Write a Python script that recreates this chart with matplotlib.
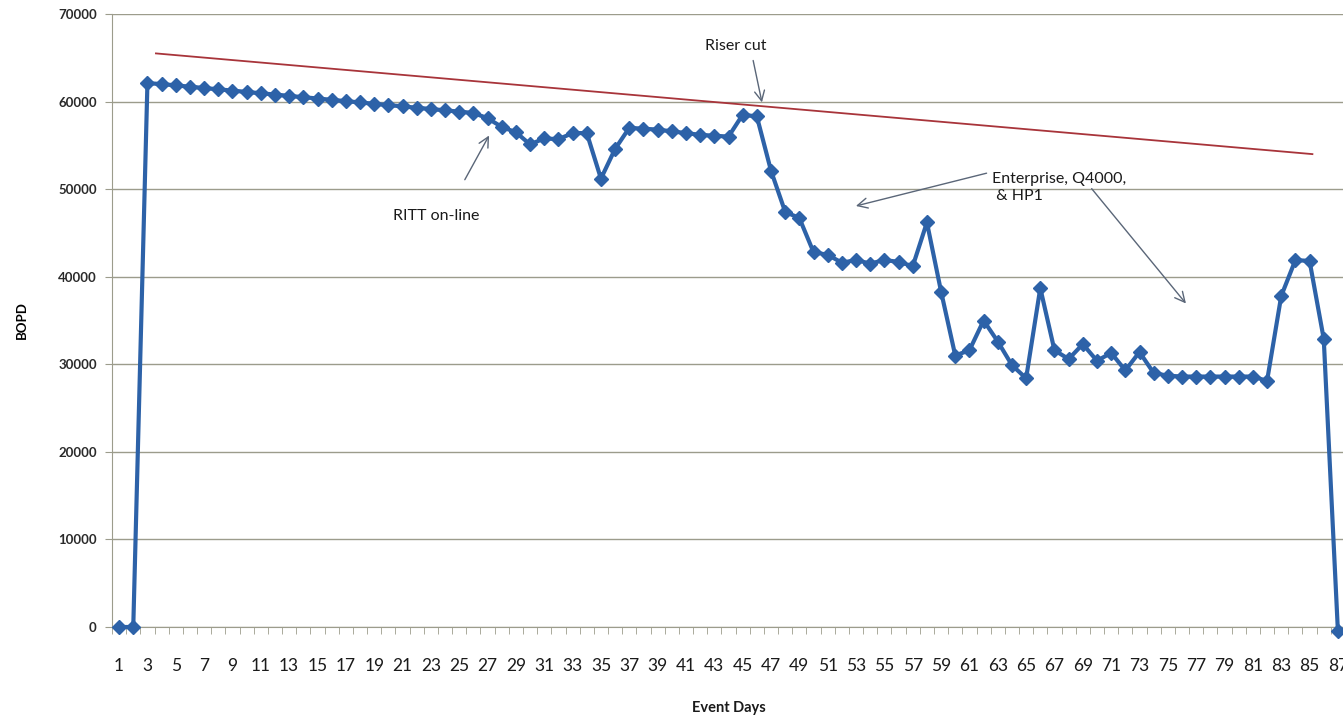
import matplotlib
matplotlib.use("Agg")
import matplotlib.pyplot as plt
import numpy as np

plt.rcParams["font.family"] = ["Lato", "DejaVu Sans"]

# --- data ---
days = list(range(1, 88))
bopd = [
    0, 0, 62100, 62000, 61850, 61700, 61550, 61400, 61250, 61100,
    60950, 60800, 60650, 60500, 60350, 60200, 60050, 59900, 59750, 59600,
    59450, 59300, 59150, 59000, 58850, 58700, 58100, 57100, 56500, 55100,
    55800, 55700, 56400, 56400, 51200, 54600, 57000, 56900, 56800, 56600,
    56400, 56200, 56100, 56000, 58500, 58300, 52100, 47400, 46700, 42800,
    42500, 41600, 41900, 41500, 41900, 41700, 41200, 46200, 38300, 31000,
    31600, 35000, 32600, 29900, 28400, 38700, 31600, 30600, 32300, 30400,
    31300, 29300, 31400, 29000, 28700, 28600, 28600, 28600, 28600, 28600,
    28600, 28100, 37800, 41900, 41800, 32900, -500,
]
trend_x = [3.6, 85.2]
trend_y = [65500, 54000]
y_ticks = [0, 10000, 20000, 30000, 40000, 50000, 60000, 70000]

fig = plt.figure(figsize=(13.43, 7.16), dpi=100)
ax = fig.add_axes([112 / 1343, 1 - 627 / 716, 1233 / 1343, 613 / 716])

ax.set_xlim(0.5, 87.5)
ax.set_ylim(0, 70000)

# grid
ax.set_yticks(y_ticks)
ax.grid(axis="y", color="#9c9c8c", lw=1.0)
ax.set_axisbelow(True)
for s in ["top", "right"]:
    ax.spines[s].set_visible(False)
ax.spines["left"].set_color("#9c9c8c")
ax.spines["bottom"].set_color("#9c9c8c")

ax.plot(days, bopd, color="#2d62a8", lw=3, marker="D", ms=7.5,
        markerfacecolor="#2d62a8", markeredgecolor="#2d62a8", clip_on=False, zorder=3)
ax.plot(trend_x, trend_y, color="#a8343a", lw=1.3, zorder=2)

# x ticks: labels every 2 days, tick marks on category boundaries
ax.set_xticks(days[::2])
ax.set_xticklabels([str(d) for d in days[::2]], fontsize=12.5, color="#1a1a1a")
ax.set_xticks(np.arange(0.5, 88, 1), minor=True)
ax.tick_params(axis="x", which="major", length=0, pad=22)
ax.tick_params(axis="x", which="minor", length=5, color="#9c9c8c", direction="out")
ax.tick_params(axis="y", length=5, color="#9c9c8c", pad=6)
for lbl in ax.get_yticklabels():
    lbl.set_fontsize(9.5)
    lbl.set_fontweight("bold")
    lbl.set_color("#2a2a2a")

ax.set_ylabel("BOPD", fontsize=9.5, fontweight="bold", labelpad=22)
ax.set_xlabel("Event Days", fontsize=10.5, fontweight="bold", labelpad=20, color="#1a1a1a")

arrow = dict(arrowstyle="->", color="#5a6678", lw=1.0, mutation_scale=18)
ax.text(44.5, 66400, "Riser cut", fontsize=11.5, ha="center", va="center", color="#1a1a1a")
ax.annotate("", xy=(46.4, 59600), xytext=(45.7, 65000), arrowprops=arrow)

ax.text(23.4, 46900, "RITT on-line", fontsize=11.5, ha="center", va="center", color="#1a1a1a")
ax.annotate("", xy=(27.2, 56400), xytext=(25.3, 50800), arrowprops=arrow)

ax.text(62.6, 50200, "Enterprise, Q4000,\n & HP1", fontsize=11.5, ha="left", va="center",
        color="#1a1a1a", linespacing=1.3)
ax.annotate("", xy=(52.8, 48000), xytext=(62.4, 51900), arrowprops=arrow)
ax.annotate("", xy=(76.4, 36700), xytext=(69.5, 50300), arrowprops=arrow)

fig.savefig("out.png", dpi=100)
